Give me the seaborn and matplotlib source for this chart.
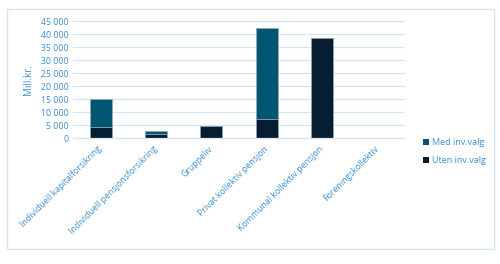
import matplotlib
matplotlib.use("Agg")
import matplotlib.pyplot as plt
import seaborn as sns
import pandas as pd
from matplotlib.patches import Rectangle, Patch
from matplotlib.ticker import FuncFormatter

categories = ["Individuell kapitalforsikring", "Individuell pensjonsforsikring",
              "Gruppeliv", "Privat kollektiv pensjon", "Kommunal kollektiv pensjon",
              "Foreningskollektiv"]
uten = [4450, 1650, 4600, 7400, 38400, 0]
med = [10400, 1250, 0, 34800, 0, 0]
yticks = [0, 5000, 10000, 15000, 20000, 25000, 30000, 35000, 40000, 45000]

df = pd.DataFrame({"cat": categories, "uten": uten, "med": med})
df["total"] = df["uten"] + df["med"]

sns.set_theme(style="white")
plt.rcParams["font.family"] = ["Open Sans", "DejaVu Sans"]

txt = "#3a8fd2"
grid = "#d3e5f5"
c_med = "#005670"
c_uten = "#071d30"
edge = "#98a8b8"

fig = plt.figure(figsize=(5.0, 2.64), dpi=100)
ax = fig.add_axes([0.146, 0.477, 0.664, 0.443])

sns.barplot(data=df, x="cat", y="total", color=c_med, width=0.4, ax=ax,
            edgecolor=edge, linewidth=0.6, saturation=1, errorbar=None)
sns.barplot(data=df, x="cat", y="uten", color=c_uten, width=0.4, ax=ax,
            edgecolor=edge, linewidth=0.6, saturation=1, errorbar=None)

ax.set_ylim(0, 45000)
ax.set_yticks(yticks)
ax.yaxis.set_major_formatter(FuncFormatter(lambda v, p: f"{int(v):,}".replace(",", " ")))
ax.set_axisbelow(True)
ax.yaxis.grid(True, color=grid, linewidth=0.9)
for s in ["top", "right", "left"]:
    ax.spines[s].set_visible(False)
ax.spines["bottom"].set_color(grid)
ax.spines["bottom"].set_linewidth(0.9)
ax.tick_params(axis="both", length=0, colors=txt, labelsize=6.3, pad=3)
ax.tick_params(axis="x", pad=7)
ax.set_xticks(range(len(categories)))
ax.set_xticklabels(categories, rotation=45, ha="right", va="center",
                   rotation_mode="anchor", color=txt)
ax.set_xlabel("")
ax.set_ylabel("Mill.kr.", color=txt, fontsize=7, labelpad=5)

handles = [Patch(facecolor=c_med, edgecolor="none", label="Med inv.valg"),
           Patch(facecolor=c_uten, edgecolor="none", label="Uten inv.valg")]
leg = fig.legend(handles=handles, loc="upper left", bbox_to_anchor=(0.838, 0.49),
                 frameon=False, fontsize=6.5, handlelength=0.7, handleheight=0.7,
                 handletextpad=0.3, labelspacing=1.0, borderaxespad=0)
for t in leg.get_texts():
    t.set_color(txt)

fig.patches.append(Rectangle((0.013, 0.057), 0.974, 0.908, transform=fig.transFigure,
                             fill=False, edgecolor=grid, linewidth=1.0))

fig.savefig("out.png", dpi=100)
